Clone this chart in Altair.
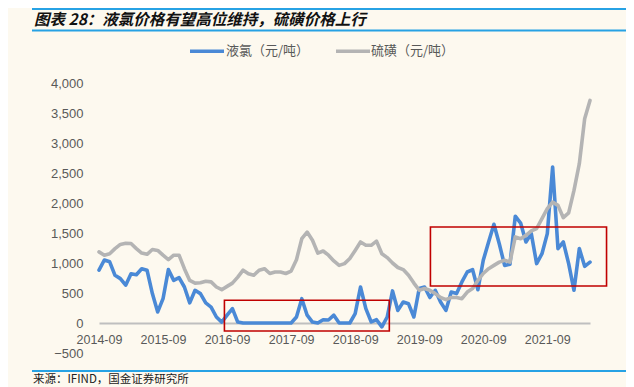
import altair as alt
import pandas as pd

# ---- data -------------------------------------------------------------
months = [f"{2014 + (8 + i) // 12}-{(8 + i) % 12 + 1:02d}" for i in range(93)]

liquid_chlorine = [
    880, 1050, 1020, 795, 740, 630, 820, 805, 905, 880,
    490, 185, 405, 890, 710, 755, 600, 335, 545, 490,
    335, 265, 100, 15, 130, 240, 15, 0, 0, 0,
    0, 0, 0, 0, 0, 0, 0, 100, 405, 130,
    15, 0, 55, 50, 130, 0, 0, 0, 155, 600,
    240, 20, 55, -65, 100, 535, 210, 350, 320, 100,
    575, 600, 425, 545, 350, 210, 515, 490, 685, 850,
    890, 555, 1045, 1350, 1645, 1320, 960, 980, 1780, 1665,
    1350, 1490, 990, 1155, 1490, 2600, 1240, 1350, 990, 545,
    1240, 945, 1015,
]

sulfur = [
    1185, 1130, 1155, 1240, 1310, 1330, 1325, 1240, 1165, 1145,
    1225, 1210, 1130, 1055, 1130, 1130, 905, 710, 665, 670,
    695, 685, 600, 555, 610, 665, 765, 880, 820, 795,
    880, 905, 825, 850, 850, 825, 865, 1055, 1405, 1515,
    1380, 1165, 1200, 1130, 1035, 960, 990, 1075, 1210, 1350,
    1295, 1295, 1365, 1155, 1090, 1000, 925, 890, 795, 665,
    545, 575, 545, 490, 425, 390, 425, 425, 405, 515,
    575, 710, 825, 905, 960, 1015, 1045, 1015, 1435, 1405,
    1460, 1535, 1575, 1740, 1905, 2015, 1960, 1755, 1835, 2210,
    2655, 3405, 3710,
]

series_names = ["液氯（元/吨）", "硫磺（元/吨）"]
series_colors = ["#4a89d6", "#b4b4b4"]

x_tick_labels = ["2014-09", "2015-09", "2016-09", "2017-09",
                 "2018-09", "2019-09", "2020-09", "2021-09"]
y_ticks = [-500, 0, 500, 1000, 1500, 2000, 2500, 3000, 3500, 4000]

# highlight boxes (in data units: month index / price)
box_x1 = [23.5, 62.1]
box_x2 = [54.4, 95.1]
box_y1 = [-133, 617]
box_y2 = [378, 1600]

title_text = "图表 28：液氯价格有望高位维持，硫磺价格上行"
source_text = "来源：IFIND，国金证券研究所"

# ---- tables -----------------------------------------------------------
rows = []
for i, m in enumerate(months):
    rows.append({"idx": i, "month": m, "value": liquid_chlorine[i], "series": series_names[0]})
for i, m in enumerate(months):
    rows.append({"idx": i, "month": m, "value": sulfur[i], "series": series_names[1]})
df = pd.DataFrame(rows)
boxes = pd.DataFrame({"x1": box_x1, "x2": box_x2, "y1": box_y1, "y2": box_y2})

label_array = "[" + ",".join(f"'{s}'" for s in x_tick_labels) + "]"

x_scale = alt.Scale(domain=[0, 92], nice=False, zero=False)
y_scale = alt.Scale(domain=[-500, 4000], nice=False)

x_axis = alt.Axis(values=[0, 12, 24, 36, 48, 60, 72, 84],
                  labelExpr=f"{label_array}[round(datum.value/12)]",
                  offset=-30, domain=True, domainColor="#bfbfbf", domainWidth=2.2,
                  ticks=False, grid=False, labelPadding=10, labelFontSize=12.5,
                  labelColor="#595959", labelFont="Liberation Sans",
                  labelOverlap=False, labelBound=False, labelFlush=False, title=None)
y_axis = alt.Axis(values=y_ticks, format=",d",
                  domain=False, ticks=False, grid=False,
                  labelPadding=16, labelFontSize=13, labelColor="#595959",
                  labelFont="Liberation Sans", labelOverlap=False,
                  labelBound=False, labelFlush=False, title=None)

lines = alt.Chart(df).mark_line(strokeWidth=3.6, strokeJoin="round", strokeCap="round").encode(
    x=alt.X("idx:Q", scale=x_scale, axis=x_axis),
    y=alt.Y("value:Q", scale=y_scale, axis=y_axis),
    color=alt.Color("series:N", scale=alt.Scale(domain=series_names, range=series_colors),
                    legend=None),
    detail="series:N",
)

rects = alt.Chart(boxes).mark_rect(fillOpacity=0, stroke="#c00000", strokeWidth=1.6).encode(
    x=alt.X("x1:Q", scale=x_scale, axis=x_axis),
    x2="x2:Q",
    y=alt.Y("y1:Q", scale=y_scale, axis=y_axis),
    y2="y2:Q",
)

one = pd.DataFrame({"k": [0]})


def hrule(x1, x2, y, color, width):
    return alt.Chart(one).mark_rule(color=color, strokeWidth=width).encode(
        x=alt.value(x1), x2=alt.value(x2), y=alt.value(y))


def label(text, x, y, size, **kw):
    return alt.Chart(pd.DataFrame({"t": [text]})).mark_text(
        align="left", baseline="middle", fontSize=size, font="Noto Sans CJK SC", **kw
    ).encode(text="t:N", x=alt.value(x), y=alt.value(y))


deco = [
    hrule(-67, 535, -74, "#27a2e4", 2),
    hrule(-67, 535, -52.5, "#27a2e4", 2),
    hrule(-67, 535, 288, "#27a2e4", 2),
    label(title_text, -65, -63, 15.5, fontWeight="bold", fontStyle="italic", color="#111111"),
    hrule(91, 125, -31.7, series_colors[0], 3.6),
    label(series_names[0], 127, -31.7, 13, color="#595959"),
    hrule(237, 271, -31.7, series_colors[1], 3.6),
    label(series_names[1], 272, -31.7, 13, color="#595959"),
    label(source_text, -66, 296.5, 11.5, color="#222222"),
]

chart = alt.layer(lines, rects, *deco).properties(
    width=491, height=270,
    autosize=alt.AutoSizeParams(type="none"),
    padding={"left": 91, "top": 75, "right": 36, "bottom": 38},
).configure(background="#fdf9ef").configure_view(stroke=None)

chart.save("out.html", embed_options={"renderer": "svg", "actions": False})
